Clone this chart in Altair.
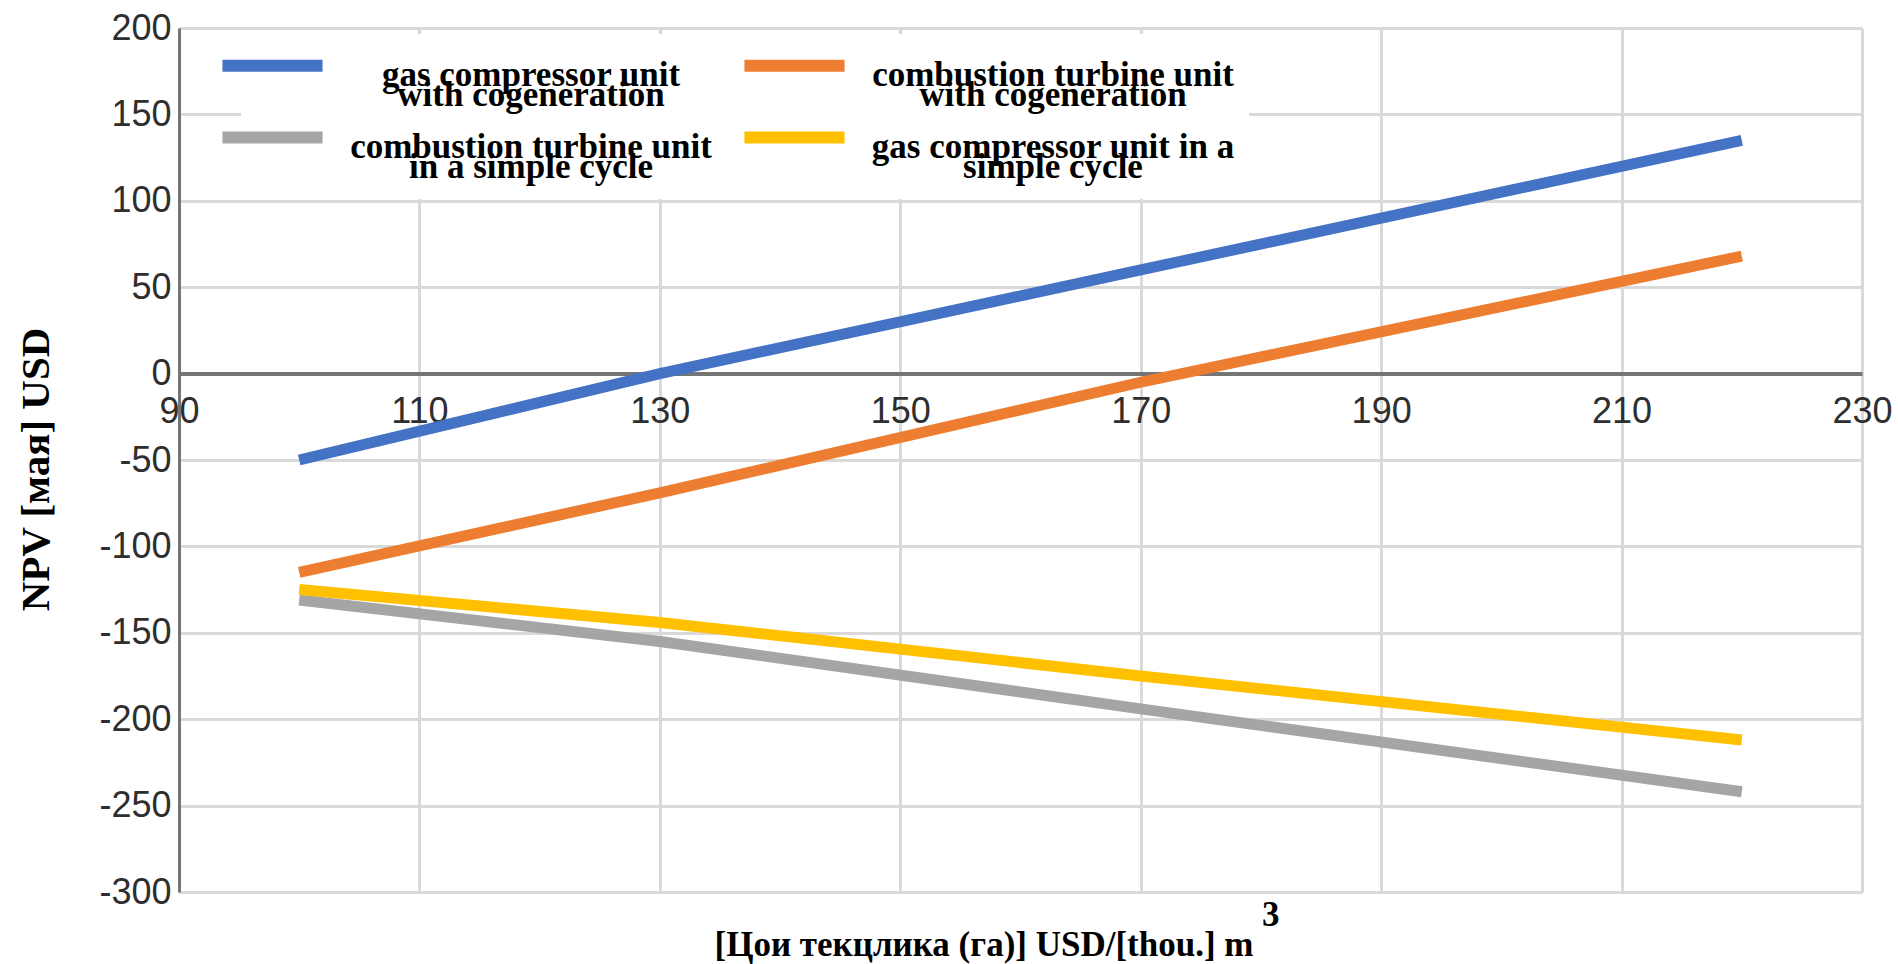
import altair as alt
import pandas as pd

# Data
x_values = [100, 130, 170, 220]
series_names = [
    "gas compressor unit|with cogeneration",
    "combustion turbine unit|in a simple cycle",
    "combustion turbine unit|with cogeneration",
    "gas compressor unit in a|simple cycle",
]
blue_values = [-50, 0, 60, 135]
gray_values = [-131, -155, -194, -242]
orange_values = [-115, -69, -5, 68]
yellow_values = [-125, -144, -175, -212]
series_colors = ["#4472C4", "#A5A5A5", "#ED7D31", "#FFC000"]

x_ticks = [90, 110, 130, 150, 170, 190, 210, 230]
y_ticks = [-300, -250, -200, -150, -100, -50, 0, 50, 100, 150, 200]
x_title = ["3", "[Цои текцлика (га)] USD/[thou.] m\u2800"]
y_title = "NPV [мая] USD"

rows = []
for name, vals in zip(series_names, [blue_values, gray_values, orange_values, yellow_values]):
    for xv, yv in zip(x_values, vals):
        rows.append({"price": xv, "npv": yv, "series": name})
df = pd.DataFrame(rows)

W, H = 1683, 864
zero_offset = -(H - H * (200 - 0) / 500)  # move x axis up to the zero line

chart = alt.Chart(df).mark_line(strokeWidth=11, strokeCap="butt").encode(
    x=alt.X(
        "price:Q",
        scale=alt.Scale(domain=[90, 230], nice=False, zero=False),
        axis=alt.Axis(
            values=x_ticks,
            orient="bottom",
            offset=zero_offset,
            grid=True,
            gridColor="#D9D9D9",
            gridWidth=3,
            domainColor="#757575",
            domainWidth=4,
            ticks=False,
            labelFont="Liberation Sans",
            labelFontSize=36,
            labelColor="#2e2e2e",
            labelPadding=21,
            labelFlush=False,
            labelExpr="'' + datum.value",
            title=x_title,
            titleFont="Liberation Serif",
            titleFontSize=35,
            titleFontWeight="bold",
            titleColor="black",
            titleAlign="right",
            titleBaseline="alphabetic",
            titleLineHeight=30,
            titleX=1100,
            titleY=552,
        ),
    ),
    y=alt.Y(
        "npv:Q",
        scale=alt.Scale(domain=[-300, 200], nice=False, zero=False),
        axis=alt.Axis(
            values=y_ticks,
            grid=True,
            gridColor="#D9D9D9",
            gridWidth=3,
            domainColor="#757575",
            domainWidth=3,
            ticks=False,
            labelFont="Liberation Sans",
            labelFontSize=36,
            labelColor="#2e2e2e",
            labelPadding=8,
            labelFlush=False,
            labelExpr="'' + datum.value",
            title=y_title,
            titleFont="Liberation Serif",
            titleFontSize=41,
            titleFontWeight="bold",
            titleColor="black",
            titleAngle=270,
            titleAlign="center",
            titleBaseline="middle",
            titleX=-143,
            titleY=441,
        ),
    ),
    color=alt.Color(
        "series:N",
        sort=series_names,
        scale=alt.Scale(domain=series_names, range=series_colors),
        legend=alt.Legend(
            title=None,
            orient="none",
            legendX=62,
            legendY=6,
            columns=2,
            symbolType="M-7.94,0L7.94,0",
            symbolStrokeWidth=12,
            symbolSize=159,
            symbolOpacity=1,
            labelFont="Liberation Serif",
            labelFontSize=35,
            labelFontWeight="bold",
            labelColor="black",
            labelAlign="center",
            labelBaseline="line-top",
            labelOffset=241,
            labelLimit=800,
            labelExpr="split(datum.label, '|')",
            columnPadding=8,
            rowPadding=0,
            fillColor="white",
            padding=14,
        ),
    ),
).properties(
    width=W,
    height=H,
    autosize="none",
    padding={"left": 179, "top": 28, "right": 36, "bottom": 72},
).configure(
    style={"guide-label": {"lineHeight": 20}}
).configure_view(stroke=None)

chart.save("out.html", embed_options={"renderer": "svg", "actions": False})
